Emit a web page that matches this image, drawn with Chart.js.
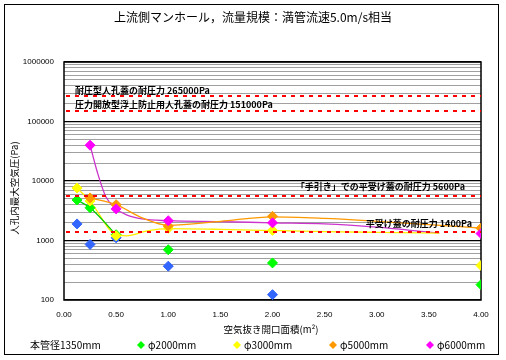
<!DOCTYPE html>
<html>
<head>
<meta charset="utf-8">
<script src="https://cdn.jsdelivr.net/npm/chart.js@4.4.0/dist/chart.umd.min.js"></script>
<style>
  body { margin: 0; background: #fff; }
  #wrap { width: 506px; height: 360px; }
</style>
</head>
<body>
<div id="wrap"><canvas id="pressureChart" width="506" height="360"></canvas></div>
<script>
// Veriler
var openArea = [0.125, 0.25, 0.5, 1.0, 2.0, 4.0];
var pipe1350 = [1900, 860, 1110, 370, 123, null];
var pipe2000 = [4800, 3550, 1250, 700, 420, 181];
var pipe3000 = [7600, 4600, 1200, 1600, 1480, 380];
var pipe5000 = [null, 5200, 4000, 1750, 2550, 1610];
var pipe6000 = [null, 40000, 3400, 2150, 1980, 1310];

// Eğri çizgileri
var curve2000X = [0.125, 0.25, 0.5];
var curve2000Y = [4800, 3550, 1250];
var curve3000X = [0.125, 0.25, 0.5, 0.6, 0.8, 1.0, 1.5, 2.0, 2.5, 3.0, 3.6];
var curve3000Y = [7600, 4600, 1250, 1200, 1450, 1580, 1540, 1470, 1410, 1370, 1330];
var curve5000X = [0.25, 0.5, 0.75, 1.0, 1.5, 2.0, 2.5, 3.0, 3.5, 4.0];
var curve5000Y = [5200, 4000, 2400, 1800, 2100, 2500, 2350, 2100, 1850, 1620];
var curve6000X = [0.25, 0.32, 0.4, 0.5, 0.6, 0.75, 1.0, 1.5, 2.0, 2.5, 3.0, 3.3, 3.6];
var curve6000Y = [40000, 14000, 5500, 3400, 2700, 2300, 2150, 2080, 1980, 1900, 1680, 1500, 1330];

var limitValues = [265000, 151000, 5600, 1400];
var limitLabels = ['耐圧型人孔蓋の耐圧力 265000Pa', '圧力開放型浮上防止用人孔蓋の耐圧力 151000Pa',
                   '「手引き」での平受け蓋の耐圧力 5600Pa', '平受け蓋の耐圧力 1400Pa'];
var legendLabels = ['本管径1350mm', 'φ2000mm', 'φ3000mm', 'φ5000mm', 'φ6000mm'];
var seriesColors = ['#3366ff', '#00ff00', '#ffff00', '#ff9900', '#ff00ff'];
var curveColors = ['#00cc00', '#ffee00', '#ff9900', '#cc33cc'];

var chartTitle = '上流側マンホール，流量規模：満管流速5.0m/s相当';
var xTitle = '空気抜き開口面積(m²)';
var yTitle = '人孔内最大空気圧(Pa)';

var jpFont = '"Noto Sans CJK JP", sans-serif';

function toPoints(xs, ys) {
  var pts = [];
  for (var i = 0; i < xs.length; i++) {
    if (ys[i] !== null) pts.push({ x: xs[i], y: ys[i] });
  }
  return pts;
}

function isDecade(v) {
  var l = Math.log10(v);
  return Math.abs(l - Math.round(l)) < 1e-9;
}

function markerSet(label, values, color, order) {
  return {
    label: label,
    data: toPoints(openArea, values),
    showLine: false,
    pointStyle: 'rectRot',
    pointRadius: 5,
    pointBackgroundColor: color,
    pointBorderColor: color,
    pointBorderWidth: 1,
    order: order
  };
}

function curveSet(xs, ys, color) {
  return {
    label: '',
    data: toPoints(xs, ys),
    showLine: true,
    pointRadius: 0,
    borderColor: color,
    borderWidth: 1.3,
    cubicInterpolationMode: 'monotone',
    order: 20
  };
}

var labelPlace = [
  { align: 'left', x: 75, dy: -6 },
  { align: 'left', x: 75, dy: -6 },
  { align: 'right', x: 465, dy: -9 },
  { align: 'right', x: 472, dy: -8 }
];
var legendMarkerX = [null, 141, 237, 333, 430];

function drawDiamond(c, x, y, r, color) {
  c.beginPath();
  c.moveTo(x, y - r); c.lineTo(x + r, y); c.lineTo(x, y + r); c.lineTo(x - r, y);
  c.closePath();
  c.fillStyle = color;
  c.fill();
}

var chartDecor = {
  id: 'chartDecor',
  beforeDraw: function(chart) {
    var c = chart.ctx;
    c.save();
    c.fillStyle = '#fff';
    c.fillRect(0, 0, chart.width, chart.height);
    c.strokeStyle = '#000';
    c.lineWidth = 1;
    c.strokeRect(4.5, 4.5, 494, 350);
    c.restore();
  },
  beforeDatasetsDraw: function(chart) {
    var a = chart.chartArea, c = chart.ctx;
    c.save();
    c.strokeStyle = '#000';
    c.lineWidth = 1.5;
    c.strokeRect(a.left, a.top, a.right - a.left, a.bottom - a.top);
    c.restore();
  },
  afterDatasetsDraw: function(chart) {
    var a = chart.chartArea, c = chart.ctx, ys = chart.scales.y;
    c.save();
    // Kırmızı sınır çizgileri
    c.strokeStyle = '#ff0000';
    c.lineWidth = 2.2;
    c.setLineDash([4, 5]);
    limitValues.forEach(function(v) {
      var y = Math.round(ys.getPixelForValue(v));
      c.beginPath();
      c.moveTo(a.left + 2, y);
      c.lineTo(a.right, y);
      c.stroke();
    });
    c.setLineDash([]);
    c.fillStyle = '#000';
    c.font = 'bold 9px ' + jpFont;
    c.textBaseline = 'middle';
    limitLabels.forEach(function(t, i) {
      var p = labelPlace[i];
      c.textAlign = p.align;
      c.fillText(t, p.x, ys.getPixelForValue(limitValues[i]) + p.dy);
    });
    c.restore();
  },
  afterDraw: function(chart) {
    var c = chart.ctx;
    c.save();
    c.fillStyle = '#000';
    c.textBaseline = 'middle';
    c.textAlign = 'center';
    c.font = '12px ' + jpFont;
    c.fillText(chartTitle, 253, 17);
    c.font = '9.5px ' + jpFont;
    c.fillText(xTitle, 271, 329);
    c.save();
    c.translate(14, 188);
    c.rotate(-Math.PI / 2);
    c.fillText(yTitle, 0, 0);
    c.restore();
    // Açıklama (legend)
    c.textAlign = 'left';
    c.font = '10px ' + jpFont;
    legendLabels.forEach(function(t, i) {
      var mx = legendMarkerX[i];
      if (mx === null) {
        c.fillStyle = '#000';
        c.fillText(t, 30, 345);
      } else {
        drawDiamond(c, mx, 345, 4, seriesColors[i]);
        c.fillStyle = '#000';
        c.fillText(t, mx + 7, 345);
      }
    });
    c.restore();
  }
};

new Chart(document.getElementById('pressureChart').getContext('2d'), {
  type: 'scatter',
  data: {
    datasets: [
      markerSet(legendLabels[4], pipe6000, seriesColors[4], 0),
      markerSet(legendLabels[3], pipe5000, seriesColors[3], 1),
      markerSet(legendLabels[2], pipe3000, seriesColors[2], 2),
      markerSet(legendLabels[1], pipe2000, seriesColors[1], 3),
      markerSet(legendLabels[0], pipe1350, seriesColors[0], 4),
      curveSet(curve2000X, curve2000Y, curveColors[0]),
      curveSet(curve3000X, curve3000Y, curveColors[1]),
      curveSet(curve5000X, curve5000Y, curveColors[2]),
      curveSet(curve6000X, curve6000Y, curveColors[3])
    ]
  },
  options: {
    responsive: false,
    animation: false,
    layout: { padding: { top: 62, right: 25, left: 0, bottom: 0 } },
    plugins: {
      legend: { display: false },
      title: { display: false },
      tooltip: { enabled: false }
    },
    scales: {
      x: {
        type: 'linear',
        min: 0,
        max: 4,
        afterFit: function(s) { s.height = 60; },
        grid: { display: false },
        border: { display: false },
        ticks: {
          stepSize: 0.5,
          padding: 2,
          color: '#000',
          font: { family: 'Liberation Sans', size: 8 },
          callback: function(v) { return v.toFixed(2); }
        }
      },
      y: {
        type: 'logarithmic',
        min: 100,
        max: 1000000,
        afterFit: function(s) { s.width = 64; },
        afterBuildTicks: function(s) {
          var vals = [];
          for (var e = 2; e < 6; e++) {
            for (var m = 1; m < 10; m++) vals.push(m * Math.pow(10, e));
          }
          vals.push(1000000);
          s.ticks = vals.map(function(v) { return { value: v }; });
        },
        border: { display: false },
        grid: {
          drawTicks: false,
          color: function(ctx) { return ctx.tick && isDecade(ctx.tick.value) ? '#000' : '#a0a0a0'; },
          lineWidth: function(ctx) { return ctx.tick && isDecade(ctx.tick.value) ? 1.3 : 1; }
        },
        ticks: {
          autoSkip: false,
          padding: 10,
          color: '#000',
          font: { family: 'Liberation Sans', size: 8 },
          callback: function(v) { return isDecade(v) ? String(Math.round(v)) : ''; }
        }
      }
    }
  },
  plugins: [chartDecor]
});
</script>
</body>
</html>
